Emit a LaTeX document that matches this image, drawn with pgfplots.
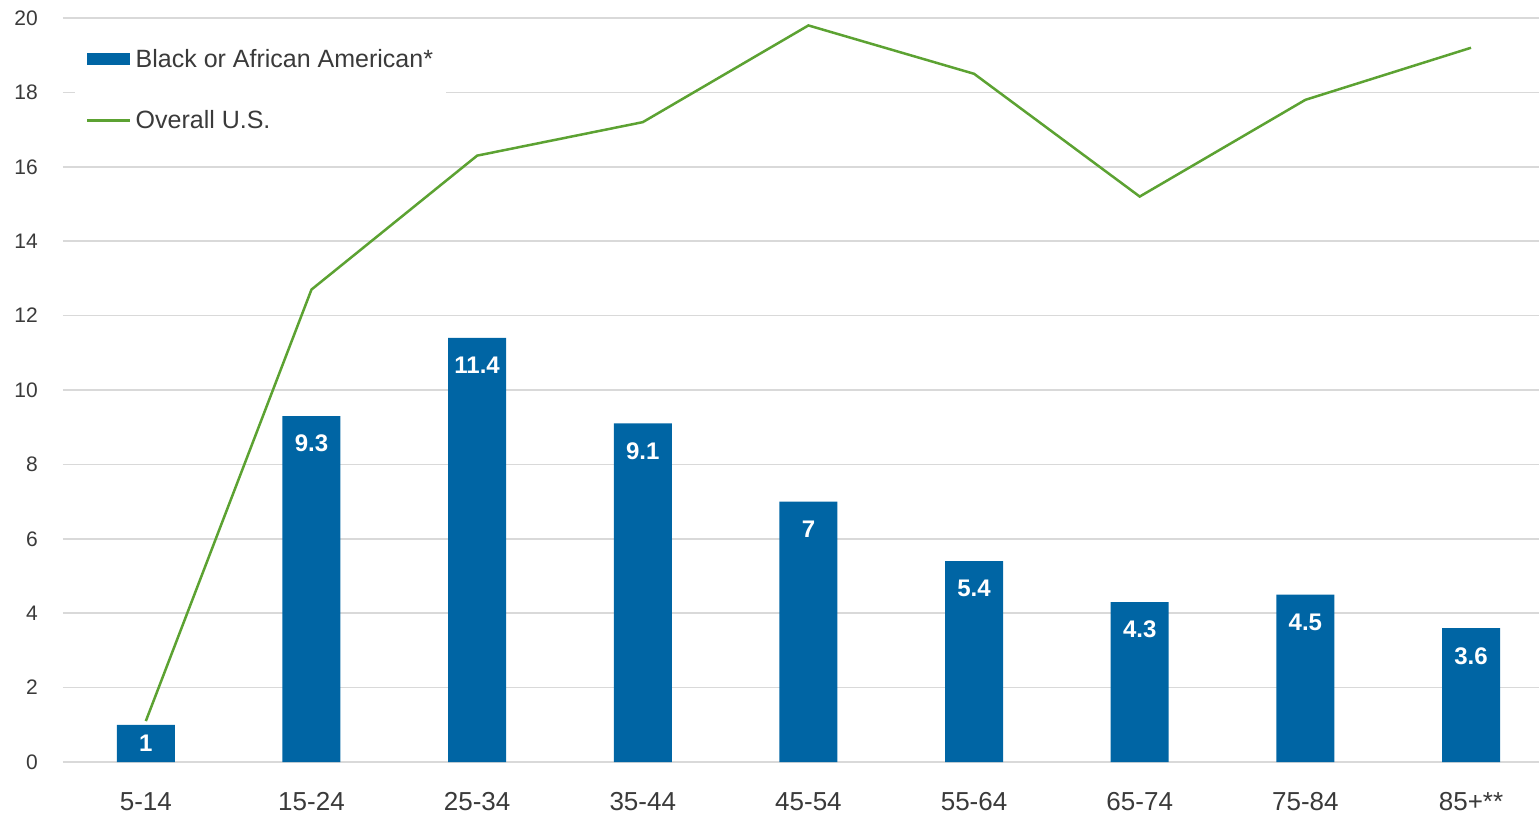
\documentclass[border=0pt]{standalone}
\usepackage{pgfplots}
\pgfplotsset{compat=1.18}
\usepackage{fontspec}
\setmainfont{Liberation Sans}
\definecolor{barblue}{HTML}{0065A4}
\definecolor{lgreen}{HTML}{5CA232}
\definecolor{gridc}{HTML}{D9D9D9}
\definecolor{txt}{HTML}{3A3A3A}
\begin{document}
\begin{tikzpicture}
\begin{axis}[
  scale only axis, width=1476pt, height=744pt,
  xmin=-0.5, xmax=8.41, ymin=0, ymax=20,
  /pgf/number format/assume math mode=true,
  axis line style={draw=none},
  major tick length=0pt,
  ymajorgrids, grid style={gridc, line width=1.5pt},
  ytick={0,2,...,20},
  xtick={0,...,8},
  xticklabels={5-14,15-24,25-34,35-44,45-54,55-64,65-74,75-84,85+**},
  yticklabel style={font=\fontsize{21}{24}\selectfont, text=txt, inner sep=0pt, anchor=east, xshift=-25pt},
  xticklabel style={font=\fontsize{26}{30}\selectfont, text=txt, inner sep=0pt, anchor=base, yshift=-48pt},
  legend cell align=left,
  legend style={at={(0,1)}, anchor=north west, xshift=12pt, yshift=-17pt,
    draw=none, fill=white, inner xsep=11pt, inner ysep=12pt,
    font=\fontsize{25}{29}\selectfont, text=txt, row sep=38pt,
    /tikz/every odd column/.append style={column sep=2pt}},
]
\addplot[ybar, bar width=58pt, fill=barblue, draw=none,
  visualization depends on={y \as \rawy},
  nodes near coords,
  nodes near coords style={white, font=\bfseries\fontsize{24}{27}\selectfont, anchor=north, inner sep=0pt, yshift={-19pt+9pt*(\rawy<2)}},
  legend image code/.code={\fill[barblue] (0pt,-6pt) rectangle (43pt,6pt);}]
  coordinates {(0,1) (1,9.3) (2,11.4) (3,9.1) (4,7) (5,5.4) (6,4.3) (7,4.5) (8,3.6)};
\addlegendentry{Black or African American*}
\addplot[lgreen, line width=2.5pt, mark=none,
  legend image code/.code={\draw[lgreen, line width=2.5pt] (0pt,0pt) -- (43pt,0pt);}]
  coordinates {(0,1.1) (1,12.7) (2,16.3) (3,17.2) (4,19.8) (5,18.5) (6,15.2) (7,17.8) (8,19.2)};
\addlegendentry{Overall U.S.}
\end{axis}
\pgfresetboundingbox
\path (-63pt,-52pt) rectangle (1476pt,762pt);
\end{tikzpicture}
\end{document}
